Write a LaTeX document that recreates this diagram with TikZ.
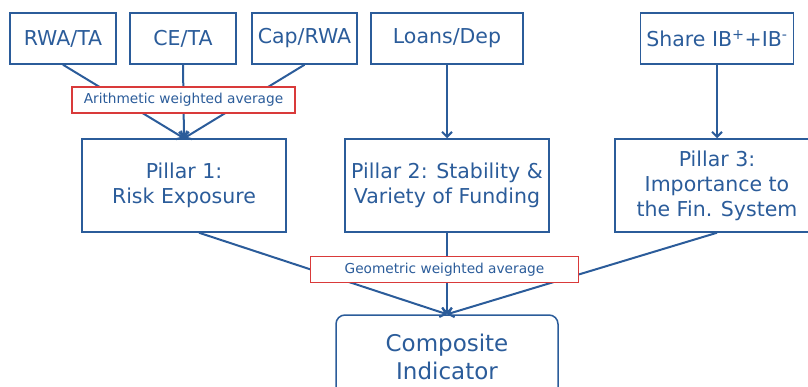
\documentclass[tikz,border=0pt]{standalone}
\usepackage{fontspec}
\setmainfont{DejaVu Sans}
\usetikzlibrary{arrows.meta}

\definecolor{navy}{HTML}{2B5C9A}
\definecolor{redline}{HTML}{D93A3A}

\begin{document}
\begin{tikzpicture}[x=1pt, y=-1pt,
	box/.style={draw=navy, line width=1.5pt, text=navy, align=center,
		inner sep=0pt, minimum height=51pt, font=\fontsize{20.5}{24}\selectfont},
	pillar/.style={box, minimum width=204pt, minimum height=93pt,
		font=\fontsize{20.5}{25}\selectfont},
	avg/.style={draw=redline, line width=1.2pt, fill=white, text=navy,
		inner sep=0pt, minimum height=26pt, font=\fontsize{13.7}{16}\selectfont},
	link/.style={draw=navy, line width=2pt, -{Straight Barb[length=5pt,width=10pt]}}]
	\clip (0,0) rectangle (808,387);

	% ratios
	\node[box, minimum width=106pt] (rwa) at (63,38.5) {RWA/TA};
	\node[box, minimum width=106pt] (ce) at (183,38.5) {CE/TA};
	\node[box, minimum width=105pt] (cap) at (304.5,38.5) {Cap/RWA};
	\node[box, minimum width=152pt] (loans) at (447,38.5) {Loans/Dep};
	\node[box, minimum width=153pt] (share) at (717,38.5) {Share IB\textsuperscript{+}+IB\textsuperscript{-}};

	% pillars
	\node[pillar] (p1) at (184,185.5) {Pillar 1:\\Risk Exposure};
	\node[pillar] (p2) at (447,185.5) {Pillar 2: Stability \&\\Variety of Funding};
	\node[pillar] (p3) at (717,185.5) {Pillar 3:\\Importance to\\the Fin. System};

	\node[box, rounded corners=9pt, minimum width=222pt, minimum height=84pt,
		font=\fontsize{23}{27.7}\selectfont] (comp) at (447,357) {Composite\\Indicator};

	\draw[link] (rwa.south) -- (p1.north);
	\draw[link] (ce.south) -- (p1.north);
	\draw[link] (cap.south) -- (p1.north);
	\draw[link] (loans.south) -- (loans.south |- p2.north);
	\draw[link] (share.south) -- (share.south |- p3.north);

	\draw[link] ([xshift=15pt]p1.south) -- (comp.north);
	\draw[link] (p2.south) -- (comp.north);
	\draw[link] (p3.south) -- (comp.north);

	% weighting labels on top of the links
	\node[avg, minimum width=223pt] (arith) at (183.5,100) {Arithmetic weighted average};
	\node[avg, minimum width=268pt] (geo) at (444.5,269.5) {Geometric weighted average};
\end{tikzpicture}
\end{document}
